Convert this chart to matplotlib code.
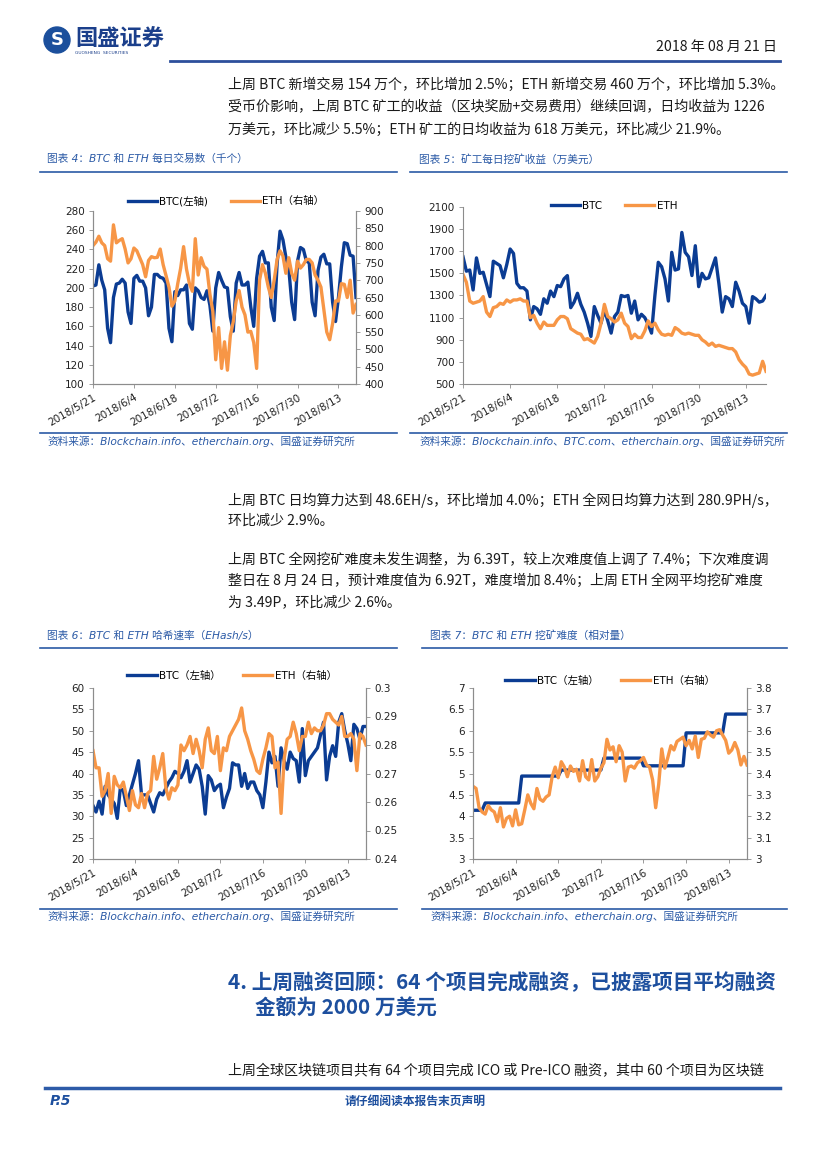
import numpy as np
import pandas as pd
import matplotlib
matplotlib.use("Agg")
import matplotlib.pyplot as plt
from matplotlib.lines import Line2D
from matplotlib.patches import Ellipse

plt.rcParams['font.family'] = ['Noto Sans CJK SC', 'DejaVu Sans']

# ---- data ----
dates = pd.date_range('2018-05-21', '2018-08-19')

# 图表4: daily transactions (thousand)
btc_tx = [202, 203, 224, 208, 198, 158, 143,
          190, 204, 205, 209, 205, 175, 163,
          210, 213, 207, 207, 200, 171, 180,
          214, 214, 211, 210, 205, 158, 144,
          196, 192, 198, 198, 203, 163, 157,
          200, 197, 190, 188, 197, 182, 155,
          200, 216, 208, 201, 200, 170, 155,
          205, 216, 203, 203, 206, 180, 160,
          210, 233, 238, 226, 226, 180, 166,
          225, 259, 250, 232, 220, 185, 167,
          228, 242, 240, 228, 226, 185, 171,
          218, 232, 235, 225, 225, 185, 165,
          190, 222, 247, 246, 234, 233, 190]
eth_tx = [800, 810, 827, 808, 800, 762, 755, 860, 808, 815,
          820, 790, 750, 762, 793, 785, 765, 745, 710, 757,
          768, 765, 766, 790, 745, 713, 680, 625, 640, 690,
          735, 797, 732, 690, 668, 820, 715, 765, 740, 732,
          660, 610, 470, 563, 445, 522, 440, 540,
          580, 640, 670, 622, 600, 550, 552, 520, 445,
          700, 745, 720, 680, 650, 700, 760, 785, 770, 720, 765, 720,
          700, 755, 735, 745, 760, 760, 750, 715, 700, 680, 615,
          550, 528, 575, 640, 640, 690, 688, 650, 700, 605, 630]

# 图表5: miner revenue (10k USD)
btc_rev = [1650, 1520, 1530, 1350, 1640, 1500, 1510, 1400, 1290, 1610,
           1590, 1570, 1460, 1580, 1720, 1680, 1410, 1370, 1370, 1340,
           1080, 1200, 1180, 1130, 1270, 1230, 1340, 1290, 1390, 1380,
           1450, 1480, 1190, 1240, 1320, 1220, 1150, 1050, 930, 1200,
           1120, 1050, 1170, 1070, 960, 1110, 1150, 1300, 1290, 1300,
           1140, 1250, 1080, 1130, 1100, 1040, 960, 1300, 1600, 1560,
           1450, 1250, 1690, 1530, 1540, 1870, 1690, 1650, 1480, 1750,
           1380, 1500, 1450, 1460, 1550, 1640, 1410, 1150, 1290, 1270,
           1200, 1420, 1340, 1230, 1200, 1050, 1290, 1270, 1240, 1250, 1300]
eth_rev = [1490, 1420, 1250, 1230, 1240, 1250, 1290, 1150, 1110, 1190,
           1200, 1230, 1220, 1260, 1240, 1260, 1260, 1270, 1250, 1250,
           1100, 1120, 1050, 1000, 1060, 1030, 1030, 1030, 1080, 1110,
           1110, 1090, 1000, 980, 960, 950, 900, 910, 890, 870,
           930, 1050, 1220, 1110, 1090, 1060, 1080, 1140, 1050, 1020,
           910, 950, 920, 920, 980, 1070, 1020, 1050, 990, 950,
           940, 950, 940, 1010, 990, 960, 950, 960, 950, 940,
           940, 900, 880, 850, 870, 840, 850, 840, 830, 820,
           820, 790, 720, 680, 650, 590, 580, 590, 600, 705, 615]

# 图表6: hash rate (EHash/s)
btc_hash = [32.5, 31, 33.5, 30.5, 37, 35, 34, 33, 29.5, 36.5,
            36, 32.5, 35, 37.5, 40, 43, 35, 35, 35, 33,
            31, 34, 35.5, 35, 36.5, 38, 39, 40.5, 40, 39,
            40.5, 43, 38, 40, 42, 41, 37, 30.5, 39.5, 38.5,
            36, 37, 37.5, 32, 34.5, 36.5, 42.5, 42, 42, 37,
            40, 36.5, 38, 38, 36, 35, 32, 38, 45, 42.5,
            44, 37, 46, 43, 41, 45, 43.5, 43, 38,
            50.5, 39.5, 43, 44, 45, 46, 49, 52, 38.5, 44, 46.5,
            44, 52, 54, 50, 47, 43, 51.5, 50.5, 48, 51, 51]
eth_hash = [.278, .272, .272, .262, .264, .270, .256, .269, .266, .265,
            .267, .262, .257, .264, .259, .258, .263, .258, .263, .264,
            .276, .268, .272, .277, .265, .261, .265, .264, .266, .280,
            .278, .280, .283, .277, .282, .278, .272, .282, .286, .278,
            .277, .283, .271, .279, .278, .283, .285, .287, .289, .293,
            .285, .282, .278, .275, .271, .270, .275, .279, .284, .283,
            .272, .274, .256, .275, .282, .283, .288, .284, .278, .283,
            .283, .288, .284, .286, .285, .285, .287, .291, .291, .289,
            .288, .287, .290, .283, .283, .284, .282, .271, .284, .283, .280]

# 图表7: mining difficulty
btc_diff = [4.14] * 4 + [4.31] * 12 + [4.94] * 13 + [5.08] * 14 + \
           [5.36] * 13 + [5.18] * 14 + [5.95] * 13 + [6.39] * 8
eth_diff = [3.34, 3.33, 3.24, 3.22, 3.21, 3.25,
            3.23, 3.22, 3.175, 3.24, 3.15, 3.19, 3.20, 3.155, 3.23, 3.16,
            3.165, 3.23, 3.30, 3.26, 3.235, 3.33, 3.28, 3.27,
            3.29, 3.30, 3.385, 3.43, 3.38, 3.455, 3.43, 3.385, 3.435, 3.41,
            3.42, 3.365, 3.46, 3.385, 3.37, 3.465, 3.365, 3.385, 3.425, 3.45,
            3.56, 3.51, 3.525, 3.455, 3.53, 3.50, 3.365, 3.43, 3.435, 3.425,
            3.45, 3.46, 3.475, 3.44, 3.43, 3.37, 3.24, 3.35, 3.515, 3.425,
            3.475, 3.53, 3.51, 3.55, 3.56, 3.57, 3.53, 3.555, 3.515, 3.575,
            3.475, 3.56, 3.565, 3.595, 3.58, 3.57, 3.60, 3.605, 3.58, 3.555,
            3.495, 3.51, 3.545, 3.51, 3.44, 3.48, 3.44]

BTC_C = '#0B3C93'
ETH_C = '#F79646'
BLUE = '#2B5AA6'
TXT = '#1a1a1a'
LATIN = ['DejaVu Sans', 'Noto Sans CJK SC']

W, H = 827, 1169
fig = plt.figure(figsize=(W / 100, H / 100), dpi=100)


def fx(x):
    return x / W


def fy(y):
    return 1 - y / H


def put(x, y, s, size=10.1, color=TXT, ha='left', **kw):
    fig.text(fx(x), fy(y), s, fontsize=size, color=color, ha=ha, va='center', **kw)


def hline(x0, x1, y, lw=1.2, color=BLUE):
    fig.add_artist(Line2D([fx(x0), fx(x1)], [fy(y), fy(y)], lw=lw, color=color))


def fmt(v):
    return '%g' % v


def chart(box, btc, eth, lticks, rticks, names, leg):
    l, t, r, b = box
    ax = fig.add_axes([fx(l), fy(b), (r - l) / W, (b - t) / H])
    x = np.arange(len(dates))
    h1, = ax.plot(x, btc, color=BTC_C, lw=2.4)
    if rticks is None:
        ax2 = ax
    else:
        ax2 = ax.twinx()
    h2, = ax2.plot(x, eth, color=ETH_C, lw=2.4)

    ax.set_xlim(0, len(dates) - 1)
    ax.set_xticks(x[::14], [f"{d.year}/{d.month}/{d.day}" for d in dates[::14]],
                  rotation=30, ha='right', rotation_mode='anchor',
                  fontsize=7.5, fontfamily='DejaVu Sans', color='#222')
    ax.set_ylim(lticks[0], lticks[-1])
    ax.set_yticks(lticks, [fmt(v) for v in lticks], fontsize=7.5,
                  fontfamily='DejaVu Sans', color='#222')
    if rticks is not None:
        ax2.set_ylim(rticks[0], rticks[-1])
        ax2.set_yticks(rticks, [fmt(v) for v in rticks], fontsize=7.5,
                       fontfamily='DejaVu Sans', color='#222')
    for a in {ax, ax2}:
        a.spines['top'].set_visible(False)
        for s in a.spines.values():
            s.set_color('#8c8c8c')
            s.set_linewidth(0.8)
        a.tick_params(length=3, width=0.6, color='#8c8c8c', pad=3)
    if rticks is None:
        ax.spines['right'].set_visible(False)
    ax2.legend([h1, h2], names, loc='center', ncol=2, frameon=False,
               bbox_to_anchor=(fx(leg[0]), fy(leg[1])), bbox_transform=fig.transFigure,
               handlelength=2.8, handletextpad=0.2, columnspacing=2.2,
               prop={'family': LATIN, 'size': 7.5})
    return ax


# ---- page header ----
fig.add_artist(Ellipse((fx(57), fy(40)), 26 / W, 26 / H, color='#1B4F9C',
                       transform=fig.transFigure))
fig.text(fx(57), fy(40), 'S', color='white', fontsize=13, fontweight='bold',
         family='DejaVu Sans', ha='center', va='center')
put(75, 39, '国盛证券', size=16, color='#1B3F8B', fontweight='bold')
put(75, 53, 'GUOSHENG  SECURITIES', size=3.2, color='#1B3F8B', family='DejaVu Sans')
put(777, 47, '2018 年 08 月 21 日', size=10.2, ha='right')
hline(170, 780, 61, lw=2.0, color='#2D4F9C')

para1 = ['上周 BTC 新增交易 154 万个，环比增加 2.5%；ETH 新增交易 460 万个，环比增加 5.3%。',
         '受币价影响，上周 BTC 矿工的收益（区块奖励+交易费用）继续回调，日均收益为 1226',
         '万美元，环比减少 5.5%；ETH 矿工的日均收益为 618 万美元，环比减少 21.9%。']
for i, s in enumerate(para1):
    put(228, 85 + 22.5 * i, s)

para2 = ['上周 BTC 日均算力达到 48.6EH/s，环比增加 4.0%；ETH 全网日均算力达到 280.9PH/s，',
         '环比减少 2.9%。']
for i, s in enumerate(para2):
    put(228, 500 + 21 * i, s)
para3 = ['上周 BTC 全网挖矿难度未发生调整，为 6.39T，较上次难度值上调了 7.4%；下次难度调',
         '整日在 8 月 24 日，预计难度值为 6.92T，难度增加 8.4%；上周 ETH 全网平均挖矿难度',
         '为 3.49P，环比减少 2.6%。']
for i, s in enumerate(para3):
    put(228, 560 + 21 * i, s)

# ---- chart frames ----
title_kw = dict(size=7.7, color=BLUE, style='italic', family=LATIN)
put(47, 159, '图表 4：BTC 和 ETH 每日交易数（千个）', **title_kw)
put(419, 159, '图表 5：矿工每日挖矿收益（万美元）', **title_kw)
put(47, 636, '图表 6：BTC 和 ETH 哈希速率（EHash/s）', **title_kw)
put(430, 636, '图表 7：BTC 和 ETH 挖矿难度（相对量）', **title_kw)
hline(40, 397, 172)
hline(410, 787, 172)
hline(40, 397, 648)
hline(422, 787, 648)
hline(40, 397, 433)
hline(410, 787, 433)
hline(40, 397, 909)
hline(422, 787, 909)
src = '资料来源：Blockchain.info、etherchain.org、国盛证券研究所'
put(47, 441, src, **title_kw)
put(419, 441, '资料来源：Blockchain.info、BTC.com、etherchain.org、国盛证券研究所', **title_kw)
put(47, 916, src, **title_kw)
put(430, 916, src, **title_kw)

chart((93, 211, 356, 384), btc_tx, eth_tx,
      list(range(100, 281, 20)), list(range(400, 901, 50)),
      ['BTC(左轴)', 'ETH（右轴）'], (226, 201))
chart((463, 207, 766, 384), btc_rev, eth_rev,
      list(range(500, 2101, 200)), None,
      ['BTC', 'ETH'], (614, 206))
chart((93, 688, 366, 859), btc_hash, eth_hash,
      list(range(20, 61, 5)), [0.24, 0.25, 0.26, 0.27, 0.28, 0.29, 0.3],
      ['BTC（左轴）', 'ETH（右轴）'], (232, 676))
chart((473, 688, 747, 859), btc_diff, eth_diff,
      [3, 3.5, 4, 4.5, 5, 5.5, 6, 6.5, 7], [3, 3.1, 3.2, 3.3, 3.4, 3.5, 3.6, 3.7, 3.8],
      ['BTC（左轴）', 'ETH（右轴）'], (610, 681))

# ---- section heading + footer ----
put(228, 983, '4. 上周融资回顾：64 个项目完成融资，已披露项目平均融资', size=14.9,
    color='#1D4F9E', fontweight='bold')
put(255, 1008, '金额为 2000 万美元', size=14.9, color='#1D4F9E', fontweight='bold')
put(228, 1071, '上周全球区块链项目共有 64 个项目完成 ICO 或 Pre-ICO 融资，其中 60 个项目为区块链')
hline(45, 780, 1088, lw=2.5, color='#2D5BA8')
put(50, 1101, 'P.5', size=10, color='#1D4F9E', fontweight='bold', style='italic',
    family='DejaVu Sans')
put(415, 1101, '请仔细阅读本报告末页声明', size=8.5, color='#1D4F9E', ha='center',
    fontweight='bold')

fig.savefig('out.png', dpi=100)
